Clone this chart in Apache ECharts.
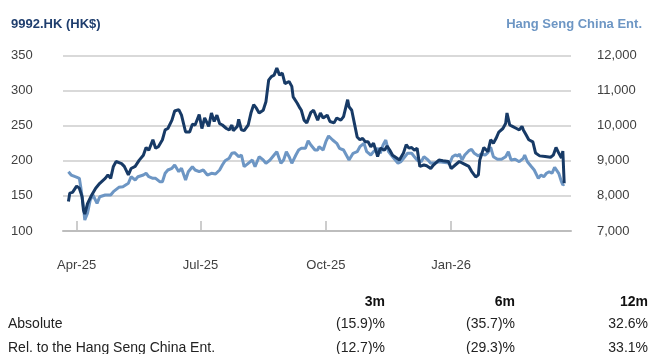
<!DOCTYPE html>
<html>
<head>
<meta charset="utf-8">
<script src="https://cdn.jsdelivr.net/npm/echarts@6/dist/echarts.min.js"></script>
<style>
html,body{margin:0;padding:0;background:#fff;}
#chart{width:649px;height:354px;}
</style>
</head>
<body>
<div id="chart"></div>
<script>
// ---- Data ----
var stockName = '9992.HK (HK$)';
var indexName = 'Hang Seng China Ent.';

var xTickDates = ['2025-04-01', '2025-07-01', '2025-10-01', '2026-01-01'];
var xTickLabels = ['Apr-25', 'Jul-25', 'Oct-25', 'Jan-26'];

var stockDates = ['2025-03-26','2025-03-27','2025-03-29','2025-04-01','2025-04-03','2025-04-05','2025-04-06','2025-04-07','2025-04-09','2025-04-12','2025-04-15','2025-04-18','2025-04-22','2025-04-24','2025-04-26','2025-04-28','2025-04-30','2025-05-04','2025-05-06','2025-05-09','2025-05-11','2025-05-14','2025-05-17','2025-05-20','2025-05-22','2025-05-24','2025-05-27','2025-05-29','2025-05-31','2025-06-03','2025-06-05','2025-06-07','2025-06-10','2025-06-12','2025-06-15','2025-06-16','2025-06-17','2025-06-20','2025-06-23','2025-06-25','2025-06-27','2025-06-30','2025-07-02','2025-07-04','2025-07-07','2025-07-09','2025-07-11','2025-07-13','2025-07-15','2025-07-17','2025-07-20','2025-07-22','2025-07-24','2025-07-25','2025-07-28','2025-07-29','2025-07-31','2025-08-02','2025-08-05','2025-08-07','2025-08-09','2025-08-11','2025-08-13','2025-08-16','2025-08-18','2025-08-20','2025-08-22','2025-08-24','2025-08-26','2025-08-28','2025-08-30','2025-09-01','2025-09-04','2025-09-06','2025-09-07','2025-09-10','2025-09-12','2025-09-13','2025-09-15','2025-09-17','2025-09-20','2025-09-22','2025-09-25','2025-09-27','2025-09-29','2025-10-02','2025-10-04','2025-10-07','2025-10-09','2025-10-12','2025-10-14','2025-10-15','2025-10-17','2025-10-18','2025-10-20','2025-10-22','2025-10-24','2025-10-26','2025-10-28','2025-10-30','2025-11-01','2025-11-03','2025-11-05','2025-11-07','2025-11-08','2025-11-10','2025-11-13','2025-11-15','2025-11-17','2025-11-19','2025-11-22','2025-11-24','2025-11-27','2025-11-29','2025-12-01','2025-12-03','2025-12-05','2025-12-07','2025-12-09','2025-12-12','2025-12-14','2025-12-17','2025-12-19','2025-12-20','2025-12-23','2025-12-26','2025-12-30','2026-01-01','2026-01-04','2026-01-07','2026-01-10','2026-01-14','2026-01-16','2026-01-19','2026-01-21','2026-01-22','2026-01-25','2026-01-28','2026-01-30','2026-02-01','2026-02-03','2026-02-05','2026-02-08','2026-02-10','2026-02-11','2026-02-13','2026-02-15','2026-02-18','2026-02-20','2026-02-22','2026-02-23','2026-02-25','2026-02-27','2026-03-02','2026-03-04','2026-03-07','2026-03-11','2026-03-15','2026-03-17','2026-03-19','2026-03-21','2026-03-23','2026-03-24','2026-03-25'];
var stockPrices = [142,154,155,164,161,149,130,124,139,151,161,168,175,180,175,192,199,196,192,180,189,192,201,208,219,215,230,218,220,230,244,246,258,271,273,275,265,241,241,252,251,266,246,261,249,268,256,265,253,251,246,244,251,243,249,259,244,243,251,268,280,275,268,272,284,315,320,322,332,322,325,310,313,306,291,282,275,272,258,254,269,272,258,268,261,265,256,254,261,258,263,265,287,277,272,253,234,230,232,227,227,220,225,213,206,218,215,221,215,208,204,201,211,223,218,219,215,218,192,194,193,189,194,195,201,200,199,189,194,199,196,192,185,177,180,201,219,213,230,225,232,241,246,253,268,251,249,246,244,249,244,237,230,227,211,207,206,205,208,219,211,204,214,168];

var indexDates = ['2025-03-26','2025-03-28','2025-03-31','2025-04-03','2025-04-04','2025-04-06','2025-04-07','2025-04-09','2025-04-11','2025-04-13','2025-04-16','2025-04-18','2025-04-22','2025-04-26','2025-04-28','2025-05-02','2025-05-05','2025-05-09','2025-05-11','2025-05-14','2025-05-16','2025-05-20','2025-05-22','2025-05-24','2025-05-27','2025-05-29','2025-06-01','2025-06-03','2025-06-05','2025-06-07','2025-06-10','2025-06-12','2025-06-15','2025-06-17','2025-06-20','2025-06-22','2025-06-25','2025-06-27','2025-06-30','2025-07-03','2025-07-06','2025-07-09','2025-07-12','2025-07-15','2025-07-17','2025-07-19','2025-07-22','2025-07-24','2025-07-26','2025-07-29','2025-07-31','2025-08-02','2025-08-05','2025-08-08','2025-08-10','2025-08-13','2025-08-16','2025-08-18','2025-08-21','2025-08-24','2025-08-26','2025-08-29','2025-08-31','2025-09-02','2025-09-04','2025-09-06','2025-09-09','2025-09-11','2025-09-13','2025-09-16','2025-09-18','2025-09-20','2025-09-23','2025-09-25','2025-09-26','2025-09-29','2025-10-01','2025-10-03','2025-10-06','2025-10-09','2025-10-11','2025-10-14','2025-10-16','2025-10-18','2025-10-21','2025-10-24','2025-10-26','2025-10-29','2025-10-31','2025-11-03','2025-11-05','2025-11-08','2025-11-10','2025-11-12','2025-11-14','2025-11-16','2025-11-18','2025-11-21','2025-11-23','2025-11-25','2025-11-28','2025-11-30','2025-12-03','2025-12-05','2025-12-07','2025-12-10','2025-12-12','2025-12-15','2025-12-17','2025-12-20','2025-12-23','2025-12-29','2025-12-31','2026-01-02','2026-01-04','2026-01-06','2026-01-07','2026-01-09','2026-01-11','2026-01-14','2026-01-16','2026-01-18','2026-01-21','2026-01-23','2026-01-26','2026-01-28','2026-01-30','2026-02-01','2026-02-04','2026-02-07','2026-02-10','2026-02-12','2026-02-14','2026-02-17','2026-02-20','2026-02-23','2026-02-24','2026-02-26','2026-03-01','2026-03-03','2026-03-06','2026-03-08','2026-03-10','2026-03-12','2026-03-14','2026-03-16','2026-03-18','2026-03-21','2026-03-23','2026-03-24','2026-03-25'];
var indexLevels = [8690,8595,8547,8500,8262,7692,7313,7504,7883,8026,7789,7977,8026,8026,8120,8245,8262,8359,8547,8453,8547,8595,8644,8547,8500,8500,8405,8405,8644,8738,8786,8880,8690,8786,8453,8690,8832,8738,8690,8738,8595,8644,8624,8738,8880,9003,9071,9214,9231,9117,9165,8832,8929,9023,8832,9117,9023,8929,9023,9165,9260,8929,9023,9260,9117,8929,9165,9308,9356,9356,9573,9450,9308,9308,9402,9308,9544,9707,9593,9498,9356,9308,9165,9023,9214,9260,9402,9498,9260,9165,9260,9356,9214,9450,9593,9260,9165,9023,8929,8974,9117,9214,9214,9117,9023,8974,9117,9023,8929,8946,8974,8946,8929,9117,9165,9137,9194,9023,9165,9288,9327,9214,9137,9194,9165,9231,9385,9117,9043,9043,9117,9260,9023,9043,8974,9071,9165,8974,8832,8738,8500,8595,8547,8644,8690,8644,8815,8644,8405,8310,8339];

var tableHeaders = ['3m', '6m', '12m'];
var tableRowLabels = ['Absolute', 'Rel. to the Hang Seng China Ent.'];
var tableRowValues = [
  ['(15.9)%', '(35.7)%', '32.6%'],
  ['(12.7)%', '(29.3)%', '33.1%']
];

// ---- Helpers ----
function day(s) {
  var p = s.split('-');
  return new Date(+p[0], +p[1] - 1, +p[2]).getTime();
}
function pairs(dates, vals) {
  return dates.map(function (d, i) { return [day(d), vals[i]]; });
}
var tickValues = xTickDates.map(day);

var NAVY = '#173a66';
var LIGHT = '#6d96c4';
var FONT = "'Liberation Sans', Arial, Helvetica, sans-serif";

var colX = [385, 515, 648];
var graphics = [
  { type: 'text', x: 11, y: 24, style: { text: stockName, fill: '#1f3e6e', font: 'bold 13px ' + FONT, align: 'left', verticalAlign: 'middle' } },
  { type: 'text', x: 642, y: 24, style: { text: indexName, fill: LIGHT, font: 'bold 13px ' + FONT, align: 'right', verticalAlign: 'middle' } }
];
tableHeaders.forEach(function (h, i) {
  graphics.push({ type: 'text', x: colX[i], y: 302, style: { text: h, fill: '#111', font: 'bold 14px ' + FONT, align: 'right', verticalAlign: 'middle' } });
});
var rowY = [324, 348];
tableRowLabels.forEach(function (lab, r) {
  graphics.push({ type: 'text', x: 8, y: rowY[r], style: { text: lab, fill: '#222', font: '14px ' + FONT, align: 'left', verticalAlign: 'middle' } });
  tableRowValues[r].forEach(function (v, i) {
    graphics.push({ type: 'text', x: colX[i], y: rowY[r], style: { text: v, fill: '#222', font: '14px ' + FONT, align: 'right', verticalAlign: 'middle' } });
  });
});

var chart = echarts.init(document.getElementById('chart'), null, { renderer: 'canvas' });
chart.setOption({
  animation: false,
  backgroundColor: '#fff',
  textStyle: { fontFamily: FONT },
  grid: { left: 63, right: 78, top: 55.5, bottom: 123, containLabel: false },
  xAxis: {
    type: 'value',
    min: day('2025-03-22'),
    max: day('2026-03-30'),
    axisLine: { show: true, onZero: false, lineStyle: { color: '#bdbdbd', width: 2 } },
    axisTick: { show: true, inside: true, length: 10, customValues: tickValues, lineStyle: { color: '#bdbdbd', width: 1.5 } },
    axisLabel: {
      customValues: tickValues,
      margin: 28,
      fontSize: 13,
      color: '#404040',
      formatter: function (val) {
        var i = tickValues.indexOf(+val);
        return i >= 0 ? xTickLabels[i] : '';
      }
    },
    splitLine: { show: false }
  },
  yAxis: [
    {
      type: 'value', min: 100, max: 350, interval: 50,
      axisLine: { show: false }, axisTick: { show: false },
      axisLabel: { align: 'left', margin: 52, fontSize: 13, color: '#404040' },
      splitLine: { show: true, lineStyle: { color: '#d9d9d9', width: 2 } }
    },
    {
      type: 'value', min: 7000, max: 12000, interval: 1000,
      axisLine: { show: false }, axisTick: { show: false },
      axisLabel: { align: 'left', margin: 26, fontSize: 13, color: '#404040' },
      splitLine: { show: false }
    }
  ],
  series: [
    {
      name: indexName, type: 'line', yAxisIndex: 1, showSymbol: false,
      data: pairs(indexDates, indexLevels),
      lineStyle: { color: LIGHT, width: 3 }, itemStyle: { color: LIGHT }
    },
    {
      name: stockName, type: 'line', yAxisIndex: 0, showSymbol: false,
      data: pairs(stockDates, stockPrices),
      lineStyle: { color: NAVY, width: 3 }, itemStyle: { color: NAVY }
    }
  ],
  graphic: graphics
});
</script>
</body>
</html>
